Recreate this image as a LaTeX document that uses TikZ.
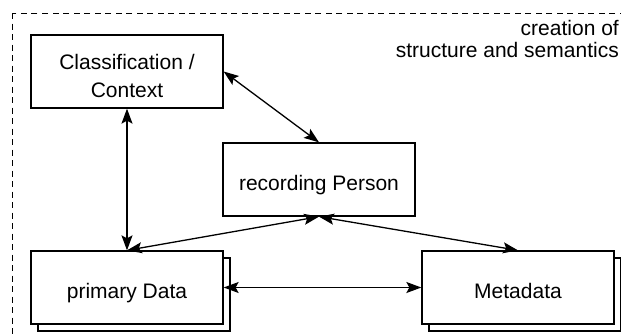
\documentclass[tikz,border=0pt]{standalone}
\usepackage{fontspec}
\setmainfont{Liberation Sans}
\usetikzlibrary{arrows.meta,shadows}

\tikzset{
  box/.style={draw, line width=1.3pt, fill=white, minimum width=192pt, minimum height=73pt,
    align=center, inner sep=2pt, font=\fontsize{21}{28}\selectfont},
  oneline/.style={text height=21pt, text depth=0pt},
  twoline/.style={text height=52pt, text depth=0pt},
  stackbox/.style={box, oneline, copy shadow={shadow xshift=7pt, shadow yshift=-7pt, draw=black, fill=white, line width=1.3pt}},
  link/.style={line width=1.3pt, {Stealth[length=15pt,width=11pt,inset=3pt]}-{Stealth[length=15pt,width=11pt,inset=3pt]}},
  frame/.style={draw, line width=1pt, dash pattern=on 6pt off 4.5pt},
  note/.style={align=right, inner sep=0pt, font=\fontsize{21}{22}\selectfont}
}

\begin{document}
\begin{tikzpicture}[x=1pt, y=-1pt]
  \useasboundingbox (0,0) rectangle (621,335);
  \fill[white] (0,0) rectangle (621,335);
  \begin{scope}
    \clip (0,0) rectangle (621,335);
    % dashed boundary, running off the right and bottom edges
    \draw[frame] (12,13) rectangle (660,370);
  \end{scope}

  \node[note, anchor=north east] (lbl) at (619,20) {creation of\\structure and semantics};

  \node[box, twoline] (cls) at (127,71.5) {Classification /\\Context};
  \node[box, oneline] (rp) at (319,179.5) {recording Person};
  \node[stackbox] (pd) at (127,287.5) {primary Data};
  \node[stackbox] (md) at (518,287.5) {Metadata};

  \draw[link] (cls.south) -- (pd.north);
  \draw[link] (cls.east) -- (rp.north);
  \draw[link] (pd.north) -- (rp.south);
  \draw[link] (rp.south) -- (md.north);
  \draw[link] (pd.east) -- (md.west);
\end{tikzpicture}
\end{document}
